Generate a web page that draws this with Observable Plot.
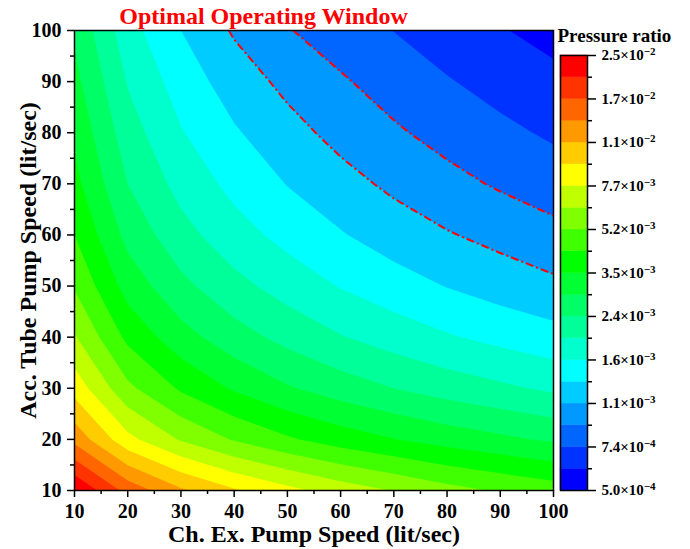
<!DOCTYPE html>
<html><head><meta charset="utf-8">
<script src="https://cdn.jsdelivr.net/npm/d3@7"></script>
<script src="https://cdn.jsdelivr.net/npm/@observablehq/plot@0.6"></script>
<style>
body{margin:0;background:#fff;}
#chart{position:relative;width:690px;height:549px;overflow:hidden;}
#chart svg{position:absolute;top:0;}
</style></head><body><div id="chart"></div>
<script>
// Grid sample positions (lit/sec)
const chExSpeed = [10, 20, 30, 40, 50, 60, 70, 80, 90, 100];
const accTubeSpeed = [10, 20, 30, 40, 50, 60, 70, 80, 90, 100];
// Pressure ratio, one row per Acc. Tube speed (x = 10..100)
const p_y10  = [2.50e-2, 1.58e-2, 1.18e-2, 9.63e-3, 8.20e-3, 7.08e-3, 6.30e-3, 5.60e-3, 5.13e-3, 4.74e-3];
const p_y20  = [1.31e-2, 8.20e-3, 6.24e-3, 5.14e-3, 4.42e-3, 3.92e-3, 3.56e-3, 3.26e-3, 3.03e-3, 2.83e-3];
const p_y30  = [8.70e-3, 5.47e-3, 4.18e-3, 3.45e-3, 2.97e-3, 2.64e-3, 2.39e-3, 2.19e-3, 2.04e-3, 1.90e-3];
const p_y40  = [6.48e-3, 4.10e-3, 3.14e-3, 2.60e-3, 2.25e-3, 1.99e-3, 1.80e-3, 1.65e-3, 1.53e-3, 1.43e-3];
const p_y50  = [5.13e-3, 3.27e-3, 2.52e-3, 2.09e-3, 1.81e-3, 1.60e-3, 1.45e-3, 1.32e-3, 1.22e-3, 1.14e-3];
const p_y60  = [4.30e-3, 2.74e-3, 2.11e-3, 1.75e-3, 1.52e-3, 1.35e-3, 1.21e-3, 1.11e-3, 1.03e-3, 9.54e-4];
const p_y70  = [3.75e-3, 2.39e-3, 1.84e-3, 1.53e-3, 1.32e-3, 1.17e-3, 1.05e-3, 9.55e-4, 8.78e-4, 8.15e-4];
const p_y80  = [3.40e-3, 2.15e-3, 1.64e-3, 1.36e-3, 1.17e-3, 1.03e-3, 9.24e-4, 8.41e-4, 7.74e-4, 7.18e-4];
const p_y90  = [3.08e-3, 1.94e-3, 1.48e-3, 1.21e-3, 1.04e-3, 9.20e-4, 8.27e-4, 7.50e-4, 6.89e-4, 6.39e-4];
const p_y100 = [2.82e-3, 1.75e-3, 1.33e-3, 1.07e-3, 9.10e-4, 8.18e-4, 7.37e-4, 6.69e-4, 6.16e-4, 5.71e-4];

// Contour levels (colour bar band edges)
const levels = [5.000e-4, 6.080e-4, 7.395e-4, 8.993e-4, 1.0936e-3, 1.3299e-3, 1.6174e-3, 1.9669e-3,
  2.3920e-3, 2.9089e-3, 3.5355e-3, 4.2996e-3, 5.2287e-3, 6.3587e-3, 7.7328e-3, 9.4040e-3,
  1.1436e-2, 1.3908e-2, 1.6913e-2, 2.0568e-2, 2.5000e-2];
const bandColors = ["#0000ff", "#0033ff", "#0066ff", "#0099ff", "#00ccff", "#00ffff", "#00ffcc", "#00ff99",
  "#00ff66", "#00ff33", "#00ff00", "#40ff00", "#80ff00", "#bfff00", "#ffff00", "#ffcc00", "#ff9900",
  "#ff6600", "#ff3300", "#ff0000"];
const windowLevels = [8.993e-4, 1.0936e-3]; // dashed "optimal window" contours
const cbTickMantissa = ["5.0", "7.4", "1.1", "1.6", "2.4", "3.5", "5.2", "7.7", "1.1", "1.7", "2.5"];
const cbTickExponent = ["−4", "−4", "−3", "−3", "−3", "−3", "−3", "−3", "−2", "−2", "−2"];
const xMinor = [15, 25, 35, 45, 55, 65, 75, 85, 95];
const yMinor = [15, 25, 35, 45, 55, 65, 75, 85, 95];
const titleText = "Optimal Operating Window";
const xLabel = "Ch. Ex. Pump Speed (lit/sec)";
const yLabel = "Acc. Tube Pump Speed (lit/sec)";
const cbTitle = "Pressure ratio";

const FONT = '"Liberation Serif","Times New Roman",serif';
const rows = [p_y10, p_y20, p_y30, p_y40, p_y50, p_y60, p_y70, p_y80, p_y90, p_y100];
const logGrid = rows.flat().map(Math.log10);
const logLevels = levels.map(Math.log10);
const nx = chExSpeed.length, ny = accTubeSpeed.length;
const dx = chExSpeed[1] - chExSpeed[0], dy = accTubeSpeed[1] - accTubeSpeed[0];
const gridOpts = {width: nx, height: ny,
  x1: chExSpeed[0] - dx / 2, x2: chExSpeed[nx - 1] + dx / 2,
  y1: accTubeSpeed[0] - dy / 2, y2: accTubeSpeed[ny - 1] + dy / 2,
  value: d => d, clip: "frame"};

const main = Plot.plot({
  width: 580, height: 549,
  marginLeft: 74, marginRight: 27, marginTop: 30, marginBottom: 59,
  x: {domain: [10, 100]},
  y: {domain: [10, 100]},
  color: {type: "threshold", domain: logLevels.slice(1, 20), range: bandColors},
  style: {background: "transparent", fontFamily: FONT, overflow: "visible"},
  marks: [
    Plot.contour(logGrid, {...gridOpts, fill: "value", thresholds: logLevels.slice(0, 20)}),
    Plot.contour(logGrid, {...gridOpts, thresholds: windowLevels.map(Math.log10), fill: "none",
      stroke: "#ff0000", strokeWidth: 2, strokeDasharray: "8,3,2,3"}),
    Plot.frame({stroke: "black", strokeWidth: 1.5}),
    Plot.axisX({ticks: chExSpeed, tickSize: 7, tickPadding: 6, strokeWidth: 1.5, fontSize: 20,
      fontWeight: "bold", fontFamily: FONT, label: null, tickFormat: d => String(d)}),
    Plot.axisX({ticks: xMinor, tickSize: 4, strokeWidth: 1.5, label: null, tickFormat: () => ""}),
    Plot.axisY({ticks: accTubeSpeed, tickSize: 7, tickPadding: 6, strokeWidth: 1.5, fontSize: 20,
      fontWeight: "bold", fontFamily: FONT, label: null, tickFormat: d => String(d)}),
    Plot.axisY({ticks: yMinor, tickSize: 4, strokeWidth: 1.5, label: null, tickFormat: () => ""}),
    Plot.text([xLabel], {text: d => d, frameAnchor: "bottom", dy: 44, lineAnchor: "middle",
      textAnchor: "middle", fontSize: 24, fontWeight: "bold", fontFamily: FONT, fill: "black"}),
    Plot.text([yLabel], {text: d => d, frameAnchor: "left", dx: -46, rotate: -90, lineAnchor: "middle",
      textAnchor: "middle", fontSize: 24, fontWeight: "bold", fontFamily: FONT, fill: "black"}),
    Plot.text([titleText], {text: d => d, frameAnchor: "top-left", dx: 189, dy: -14, lineAnchor: "middle",
      fontSize: 24, fontWeight: "bold", fontFamily: FONT, fill: "#ff0000", textAnchor: "middle"})
  ]
});

// Colour bar: linear axis over log10(pressure ratio)
const majorTicks = logLevels.filter((d, i) => i % 2 === 0);
const minorTicks = logLevels.filter((d, i) => i % 2 === 1);
const tickIndex = d => d3.minIndex(majorTicks, t => Math.abs(t - d));
const bands = d3.range(bandColors.length);
const cb = Plot.plot({
  width: 137, height: 549,
  marginLeft: 7, marginRight: 103, marginTop: 55, marginBottom: 59,
  x: {domain: [0, 1], axis: null},
  y: {domain: [logLevels[0], logLevels[logLevels.length - 1]]},
  color: {type: "identity"},
  style: {background: "transparent", fontFamily: FONT, overflow: "visible"},
  marks: [
    Plot.rect(bands, {x1: 0, x2: 1, y1: i => logLevels[i], y2: i => logLevels[i + 1],
      fill: i => bandColors[i], stroke: i => bandColors[i], strokeWidth: 0.5}),
    Plot.frame({stroke: "black", strokeWidth: 1.5}),
    Plot.axisY({anchor: "right", ticks: majorTicks, tickSize: 8, tickPadding: 6, strokeWidth: 1.5,
      fontSize: 15, fontWeight: "bold", fontFamily: FONT, label: null,
      tickFormat: d => `${cbTickMantissa[tickIndex(d)]}×10^${cbTickExponent[tickIndex(d)]}`}),
    Plot.axisY({anchor: "right", ticks: minorTicks, tickSize: 4, strokeWidth: 1.5, label: null,
      tickFormat: () => ""}),
    Plot.text([cbTitle], {text: d => d, frameAnchor: "top-left", dx: -3, dy: -20, lineAnchor: "middle",
      textAnchor: "start", fontSize: 19, fontWeight: "bold", fontFamily: FONT, fill: "black"})
  ]
});

// Render exponents as real superscripts
cb.querySelectorAll("text").forEach(t => {
  const s = t.textContent;
  if (!s.includes("^")) return;
  const [base, exp] = s.split("^");
  t.textContent = base;
  const sup = document.createElementNS("http://www.w3.org/2000/svg", "tspan");
  sup.setAttribute("dy", "-0.45em");
  sup.setAttribute("font-size", "11");
  sup.textContent = exp;
  t.appendChild(sup);
});

const chart = document.getElementById("chart");
main.style.left = "0px";
cb.style.left = "553px";
chart.appendChild(main);
chart.appendChild(cb);
</script></body></html>
